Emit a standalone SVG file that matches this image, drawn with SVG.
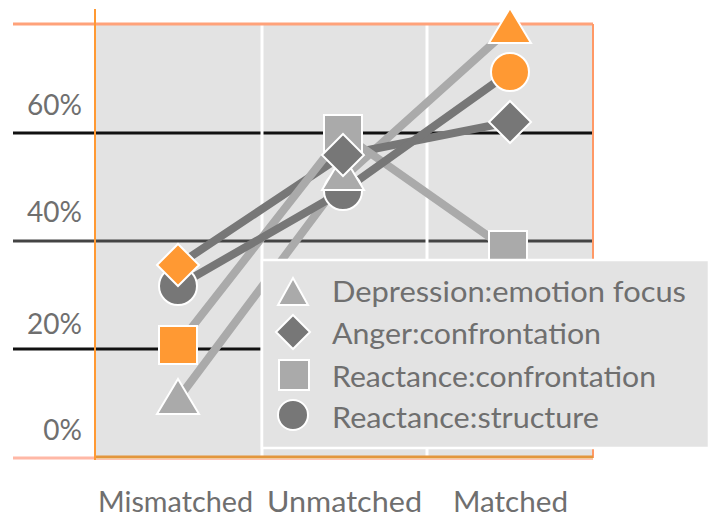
<svg xmlns="http://www.w3.org/2000/svg" xmlns:xlink="http://www.w3.org/1999/xlink" width="714" height="517" viewBox="0 0 714 517">
<style>
.txt{font-family:Lato,"Open Sans","Liberation Sans",sans-serif;fill:#6f6f6f;font-size:28px}
.ax{text-anchor:end}
.xl{font-size:29px}
.ln{fill:none;stroke-width:8;stroke-linejoin:round;stroke-linecap:butt}
.lnL{stroke:#aaaaaa}
.lnD{stroke:#777777}
.mk{stroke:#ffffff;stroke-width:2}
.L{fill:#aaaaaa}
.D{fill:#777777}
.H{fill:#ff9933}
</style>
<defs>
<path id="tri" d="M0,-20 L21,15 L-21,15 Z"/>
<path id="dia" d="M0,-21 L21,0 L0,21 L-21,0 Z"/>
<rect id="sq" x="-19" y="-19" width="38" height="38"/>
<circle id="cir" r="19"/>
<path id="triS" d="M0,-14 L15,13 L-15,13 Z"/>
<path id="diaS" d="M0,-17 L17,0 L0,17 L-17,0 Z"/>
<rect id="sqS" x="-15" y="-15" width="30" height="30"/>
<circle id="cirS" r="15"/>
</defs>
<g id="plot-area">
<rect x="95" y="24" width="498" height="433" fill="#e3e3e3"/>
<line x1="13" y1="133" x2="593" y2="133" stroke="#111111" stroke-width="3"/>
<line x1="13" y1="241" x2="593" y2="241" stroke="#444444" stroke-width="3"/>
<line x1="13" y1="349" x2="593" y2="349" stroke="#111111" stroke-width="3"/>
<line x1="262" y1="25" x2="262" y2="456" stroke="#ffffff" stroke-width="3"/>
<line x1="427" y1="25" x2="427" y2="456" stroke="#ffffff" stroke-width="3"/>
<line x1="13" y1="24" x2="593" y2="24" stroke="#ffa27a" stroke-width="3"/>
<line x1="593" y1="24" x2="593" y2="458" stroke="#ff9966" stroke-width="2"/>
<line x1="13" y1="458" x2="95" y2="458" stroke="#ffb8a6" stroke-width="3"/>
<line x1="95" y1="457" x2="593" y2="457" stroke="#e3963c" stroke-width="3"/>
<line x1="95" y1="459.5" x2="593" y2="459.5" stroke="#ffc4b4" stroke-width="1"/>
<line x1="95" y1="9" x2="95" y2="460" stroke="#ff9933" stroke-width="2"/>
</g>
<g id="y-axis-labels" class="txt ax">
<text x="82" y="115">60%</text>
<text x="82" y="222">40%</text>
<text x="82" y="334">20%</text>
<text x="82" y="440">0%</text>
</g>
<g id="x-axis-labels" class="txt xl">
<text x="98" y="512" textLength="155" lengthAdjust="spacingAndGlyphs">Mismatched</text>
<text x="267" y="512" textLength="155" lengthAdjust="spacingAndGlyphs">Unmatched</text>
<text x="453" y="512" textLength="115" lengthAdjust="spacingAndGlyphs">Matched</text>
</g>
<g id="connectors">
<polyline class="ln lnL" points="178,399 343,178 510,28"/>
<polyline class="ln lnD" points="178,265 343,155 510,122"/>
<polyline class="ln lnL" points="178,345 343,134 508,250"/>
<polyline class="ln lnD" points="178,286 343,191 510,72"/>
</g>
<g id="series-reactance-confrontation" class="mk">
<use xlink:href="#sq" x="178" y="345" class="H"/>
<use xlink:href="#sq" x="343" y="134" class="L"/>
<use xlink:href="#sq" x="508" y="250" class="L"/>
</g>
<g id="series-reactance-structure" class="mk">
<use xlink:href="#cir" x="178" y="286" class="D"/>
<use xlink:href="#cir" x="343" y="191" class="D"/>
<use xlink:href="#cir" x="510" y="72" class="H"/>
</g>
<g id="series-depression-emotion-focus" class="mk">
<use xlink:href="#tri" x="178" y="399" class="L"/>
<use xlink:href="#tri" x="343" y="175" class="L"/>
<use xlink:href="#tri" x="510" y="28" class="H"/>
</g>
<g id="series-anger-confrontation" class="mk">
<use xlink:href="#dia" x="178" y="265" class="H"/>
<use xlink:href="#dia" x="343" y="155" class="D"/>
<use xlink:href="#dia" x="510" y="122" class="D"/>
</g>
<g id="legend">
<rect x="262" y="260" width="447" height="188" fill="#e3e3e3" stroke="#ffffff" stroke-width="2.5"/>
<g class="mk">
<use xlink:href="#triS" x="293" y="292" class="L"/>
<use xlink:href="#diaS" x="293" y="332" class="D"/>
<use xlink:href="#sqS" x="294" y="375" class="L"/>
<use xlink:href="#cirS" x="293" y="415" class="D"/>
</g>
<g class="txt">
<text x="332" y="302" textLength="354" lengthAdjust="spacingAndGlyphs">Depression:emotion focus</text>
<text x="332" y="344" textLength="269" lengthAdjust="spacingAndGlyphs">Anger:confrontation</text>
<text x="332" y="387" textLength="324" lengthAdjust="spacingAndGlyphs">Reactance:confrontation</text>
<text x="332" y="428" textLength="267" lengthAdjust="spacingAndGlyphs">Reactance:structure</text>
</g>
</g>
</svg>
